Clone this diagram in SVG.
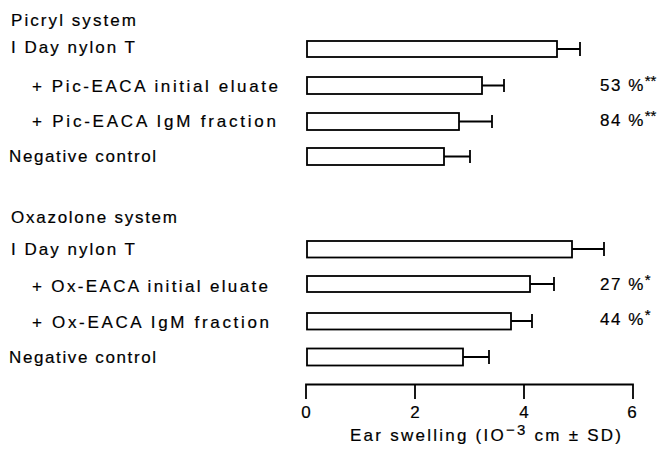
<svg xmlns="http://www.w3.org/2000/svg" width="664" height="452" viewBox="0 0 664 452">
<style>
text{font-family:"Liberation Sans","DejaVu Sans",sans-serif;font-size:17px;fill:#000;stroke:#000;stroke-width:0.2}
.bar{fill:#fff;stroke:#000;stroke-width:1.8}
.err{fill:none;stroke:#000;stroke-width:1.8}
.ax{fill:none;stroke:#000;stroke-width:1.8}
.pct{font-size:17px;letter-spacing:1.5px}
.sup{font-size:15px;letter-spacing:0}
</style>
<rect width="664" height="452" fill="#fff"/>
<g id="picryl">
<text x="11" y="26" textLength="125" lengthAdjust="spacing">Picryl system</text>
<g id="p1"><text x="11" y="53" textLength="124" lengthAdjust="spacing">I Day nylon T</text>
<rect class="bar" x="307" y="41" width="250" height="16"/><path class="err" d="M557 49H580M580 42V56"/></g>
<g id="p2"><text x="32" y="92" textLength="246" lengthAdjust="spacing">+ Pic-EACA initial eluate</text>
<rect class="bar" x="307" y="77" width="175" height="17"/><path class="err" d="M482 85.5H504M504 79V92"/>
<text class="pct" x="600" y="91">53 %<tspan class="sup" dy="-5">**</tspan></text></g>
<g id="p3"><text x="32" y="127" textLength="244" lengthAdjust="spacing">+ Pic-EACA IgM fraction</text>
<rect class="bar" x="307" y="113" width="152" height="17"/><path class="err" d="M459 121.5H492M492 115V128"/>
<text class="pct" x="600" y="126">84 %<tspan class="sup" dy="-5">**</tspan></text></g>
<g id="p4"><text x="9" y="162" textLength="147" lengthAdjust="spacing">Negative control</text>
<rect class="bar" x="307" y="148" width="137" height="17"/><path class="err" d="M444 156.5H470M470 150V163"/></g>
</g>
<g id="oxazolone">
<text x="11" y="223" textLength="166" lengthAdjust="spacing">Oxazolone system</text>
<g id="o1"><text x="11" y="255" textLength="124" lengthAdjust="spacing">I Day nylon T</text>
<rect class="bar" x="307" y="241" width="265" height="16.5"/><path class="err" d="M572 249H604M604 242V256"/></g>
<g id="o2"><text x="32" y="292" textLength="236" lengthAdjust="spacing">+ Ox-EACA initial eluate</text>
<rect class="bar" x="307" y="276" width="223" height="16"/><path class="err" d="M530 284H554M554 277V291"/>
<text class="pct" x="600" y="290">27 %<tspan class="sup" dy="-5">*</tspan></text></g>
<g id="o3"><text x="32" y="328" textLength="237" lengthAdjust="spacing">+ Ox-EACA IgM fraction</text>
<rect class="bar" x="307" y="313" width="204" height="16.5"/><path class="err" d="M511 321H532M532 314V328"/>
<text class="pct" x="600" y="325">44 %<tspan class="sup" dy="-5">*</tspan></text></g>
<g id="o4"><text x="9" y="363" textLength="147" lengthAdjust="spacing">Negative control</text>
<rect class="bar" x="307" y="348.5" width="156" height="17"/><path class="err" d="M463 357H489M489 350V364"/></g>
</g>
<g id="axis">
<path class="ax" d="M306 399V384.5H633V399M415 384.5V399M524 384.5V399"/>
<g text-anchor="middle">
<text x="306" y="418">0</text><text x="415" y="418">2</text><text x="524" y="418">4</text><text x="632" y="418">6</text>
</g>
<text x="350" y="441" textLength="271" lengthAdjust="spacing">Ear swelling (IO<tspan class="sup" dy="-6">−3</tspan><tspan dy="6"> cm ± SD)</tspan></text>
</g>
</svg>
